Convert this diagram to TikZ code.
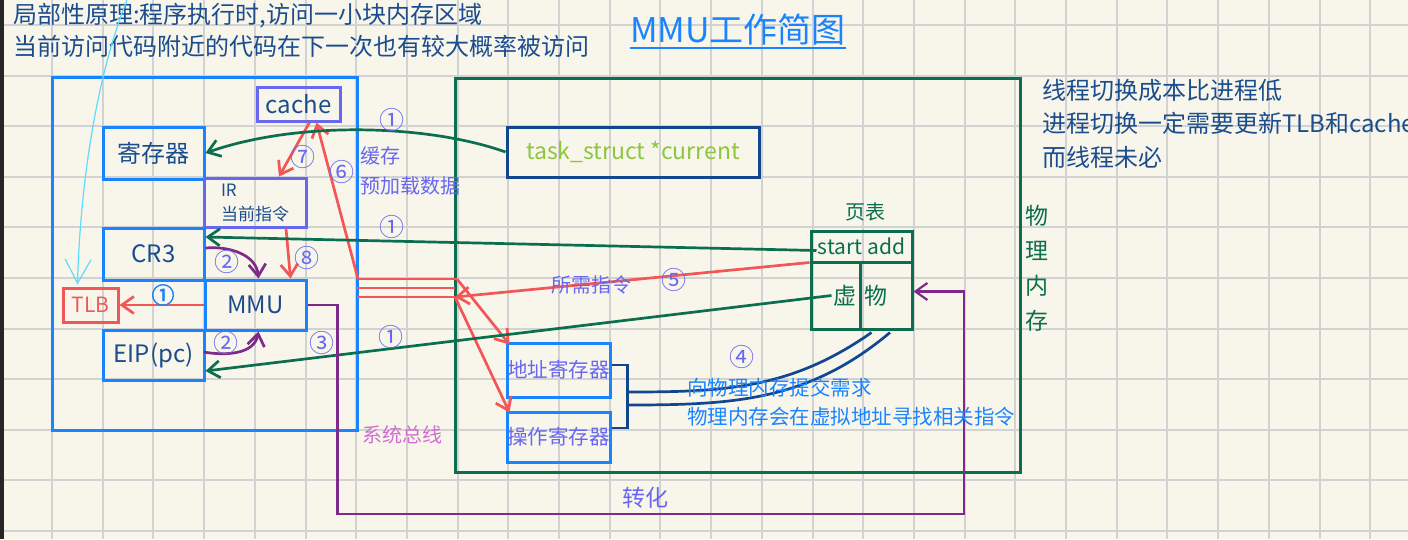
\documentclass[tikz,border=0pt]{standalone}
\usepackage{fontspec}
\setmainfont{Noto Sans CJK SC}
\newfontfamily\boldnum[FakeBold=2.5]{Noto Sans CJK SC}
\usetikzlibrary{arrows.meta,calc}

\definecolor{paper}{HTML}{F8F6EA}
\definecolor{gridgray}{HTML}{D2D2D2}
\definecolor{boxblue}{HTML}{1A84FF}
\definecolor{inkblue}{HTML}{1B4D8E}
\definecolor{slate}{HTML}{6767F2}
\definecolor{redline}{HTML}{F25656}
\definecolor{memgreen}{HTML}{0B6E4F}
\definecolor{busviolet}{HTML}{7D2A8A}
\definecolor{orchidtext}{HTML}{D06ED0}
\definecolor{leafgreen}{HTML}{8DC63F}
\definecolor{skyline}{HTML}{5EDBFF}
\definecolor{deepnavy}{HTML}{12478F}

\newcommand{\pxsize}[1]{\fontsize{#1}{#1}\selectfont}

\begin{document}
\begin{tikzpicture}[x=1pt, y=-1pt, >={Straight Barb[length=12pt,width=17pt]},
    box/.style={draw=boxblue, line width=3pt, inner sep=0pt, text=inkblue, font=\pxsize{24}},
    greenbox/.style={draw=memgreen, line width=3pt, inner sep=0pt, text=memgreen, font=\pxsize{21}},
    num/.style={text=slate, font=\pxsize{25}, inner sep=0pt},
    note/.style={text=slate, font=\pxsize{20}, inner sep=0pt},
    wire/.style={line width=2.7pt}]
        \useasboundingbox (0,0) rectangle (1408,539);
        % ==== PAPER AND GRID ====
        \fill[paper] (0,0) rectangle (1408,539);
        \foreach \gx in {0,...,26}
            \draw[gridgray, line width=2pt] ({52+50.7*\gx},0) -- ({52+50.7*\gx},539);
        \foreach \gy in {0,...,10}
            \draw[gridgray, line width=2pt] (0,{25+50.6*\gy}) -- (1408,{25+50.6*\gy});
        \fill[black!85] (0,0) rectangle (4,539);

        % ==== NOTES AND TITLE ====
        \node[anchor=north west, align=left, inner sep=0pt, text=inkblue, font=\fontsize{24}{32}\selectfont] (hint) at (13,3)
            {局部性原理:程序执行时,访问一小块内存区域\\当前访问代码附近的代码在下一次也有较大概率被访问};
        \node[anchor=west, inner sep=0pt, text=boxblue, font=\pxsize{34}] (title) at (630,30) {MMU工作简图};
        \draw[boxblue, line width=2pt] ([yshift=-5pt]title.base west) -- ([yshift=-5pt]title.base east);
        \node[anchor=north west, align=left, inner sep=0pt, text=inkblue, font=\fontsize{24}{33.5}\selectfont] (thread) at (1042,79)
            {线程切换成本比进程低\\进程切换一定需要更新TLB和cache\\而线程未必};

        % ==== CPU ====
        \draw[boxblue, line width=3pt] (52,77) rectangle (357,430);
        \node[box, draw=slate, minimum width=83pt, minimum height=34pt] (cache) at (298.5,104) {cache};
        \node[box, minimum width=101pt, minimum height=52pt] (reg) at (153.5,153) {寄存器};
        \node[box, draw=slate, minimum width=102pt, minimum height=49pt, align=left, font=\fontsize{17}{24}\selectfont] (ir) at (255,202.5) {IR\\当前指令};
        \node[box, minimum width=101pt, minimum height=52pt] (cr3) at (153.5,254) {CR3};
        \node[box, draw=redline, text=redline, minimum width=55pt, minimum height=34pt, font=\pxsize{21}] (tlb) at (90.5,305) {TLB};
        \node[box, minimum width=101pt, minimum height=50pt] (mmu) at (255.5,305) {MMU};
        \node[box, minimum width=101pt, minimum height=50pt] (eip) at (153.5,355) {EIP(pc)};

        % ==== PHYSICAL MEMORY ====
        \draw[memgreen, line width=3pt] (455,78) rectangle (1020,472);
        \node[anchor=north, align=center, inner sep=0pt, text=memgreen, font=\fontsize{23}{35}\selectfont] (memname) at (1037,205) {物\\理\\内\\存};
        \node[draw=deepnavy, line width=3pt, text=leafgreen, minimum width=252pt, minimum height=50pt, inner sep=0pt, font=\pxsize{23}] (task) at (633,152) {task\_struct *current};
        \node[text=memgreen, inner sep=0pt, font=\pxsize{20}] (ptname) at (865,212) {页表};
        \node[greenbox, minimum width=101pt, minimum height=31pt] (ptop) at (861.5,246.5) {start add};
        \node[greenbox, minimum width=49pt, minimum height=67pt, font=\pxsize{23}] (pv) at (835.5,295.5) {\hspace*{18pt}虚};
        \node[greenbox, minimum width=52pt, minimum height=67pt, font=\pxsize{23}] (pp) at (886,295.5) {物\hspace*{20pt}};
        \node[box, text=slate, minimum width=103pt, minimum height=54pt, font=\pxsize{20.5}] (addr) at (558.5,370) {地址寄存器};
        \node[box, text=slate, minimum width=103pt, minimum height=50pt, font=\pxsize{20.5}] (op) at (558.5,437) {操作寄存器};

        % ==== SYSTEM BUS ====
        \coordinate (busTL) at (358,279);
        \coordinate (busTR) at (457,279);
        \coordinate (busML) at (357,288);
        \coordinate (busMR) at (455,288);
        \coordinate (busBL) at (357,297);
        \coordinate (busBR) at (455,297);
        \draw[redline, wire] (busTL) -- (busTR);
        \draw[redline, wire] (busML) -- (busMR);
        \draw[redline, wire] (busBL) -- (busBR);
        \node[inner sep=0pt, text=orchidtext, font=\pxsize{20}] (busname) at (402,435) {系统总线};

        % ==== RED: DATA PATH ====
        \draw[redline, wire, ->] (busTL) -- ($(cache.south)+(18,0)$);
        \draw[redline, wire, ->] ($(cache.south)+(11,0)$) -- ($(ir.north)+(24,0)$);
        \draw[redline, wire, ->] ($(ir.south)+(31,0)$) -- ($(mmu.north)+(35,0)$);
        \draw[redline, wire, ->] (mmu.west) -- (tlb.east);
        \draw[redline, wire, ->] ($(pv.north west)+(0,2)$) -- (busBR);
        \draw[redline, wire, ->] (busTR) -- ($(addr.north west)+(4,3)$);
        \draw[redline, wire, ->] (busBR) -- ($(op.north west)+(4,2)$);
        \node[num] (n6) at (342,172) {⑥};
        \node[num] (n7) at (303,157) {⑦};
        \node[num] (n8) at (307,258) {⑧};
        \node[num] (n5) at (674,280) {⑤};
        \node[inner sep=0pt, text=boxblue, font=\boldnum\pxsize{23}] (n1tlb) at (163,295) {①};
        \node[note] (need) at (591,285) {所需指令};
        \node[anchor=north west, note] (cachenote) at (360,146) {缓存};
        \node[anchor=north west, note] (preload) at (360,176) {预加载数据};

        % ==== GREEN: FROM MEMORY ====
        \draw[memgreen, wire, ->] (task.west) .. controls (430,125) and (300,120) .. (reg.east);
        \draw[memgreen, wire, ->] ($(ptop.west)+(7,4)$) -- ($(cr3.east)+(0,-17)$);
        \draw[memgreen, wire, ->] ($(pv.west)+(22,0)$) -- ($(eip.east)+(0,16)$);
        \node[num] (n1a) at (392,120) {①};
        \node[num] (n1b) at (392,227) {①};
        \node[num] (n1c) at (391,337) {①};

        % ==== PURPLE: ADDRESS TRANSLATION ====
        \coordinate (busCorner) at (964,514);
        \draw[busviolet, wire, ->] ($(cr3.east)+(0,-6)$) to[out=5, in=95] ($(mmu.north)+(3,0)$);
        \draw[busviolet, wire, ->] ($(eip.east)+(-2,-3)$) to[out=-10, in=-100] ($(mmu.south)+(3,0)$);
        \draw[busviolet, line width=2.2pt, ->] (mmu.east) -- ++(30,0) |- (busCorner) |- ($(pp.east)+(0,-4)$);
        \node[num] (n2a) at (227,262) {②};
        \node[num] (n2b) at (226,343) {②};
        \node[num] (n3) at (322,343) {③};
        \node[inner sep=0pt, text=slate, font=\pxsize{23}] (turn) at (645,498) {转化};

        % ==== NAVY: REQUEST TO MEMORY ====
        \draw[deepnavy, wire] ($(addr.east)+(0,-5)$) -| ($(op.east)+(16,-9)$) -- ($(op.east)+(0,-9)$);
        \draw[deepnavy, wire] ($(addr.east)+(16,22)$) to[out=0, in=-145] ($(pv.south east)+(10,2)$);
        \draw[deepnavy, wire] ($(addr.east)+(16,35)$) to[out=0, in=-140] ($(pp.south)+(4,2)$);
        \node[num] (n4) at (742,357) {④};
        \node[anchor=north west, align=left, inner sep=0pt, text=boxblue, font=\fontsize{20.5}{29}\selectfont] (request) at (687,378)
            {向物理内存提交需求\\物理内存会在虚拟地址寻找相关指令};

        % ==== LOCALITY HINT ====
        \coordinate (hintEnd) at (127,0);
        \draw[skyline, line width=1.2pt, -{Straight Barb[length=24pt,width=26pt]}] (hintEnd) .. controls (95,80) and (80,190) .. ($(tlb.north)+(-13,-2)$);
\end{tikzpicture}
\end{document}
